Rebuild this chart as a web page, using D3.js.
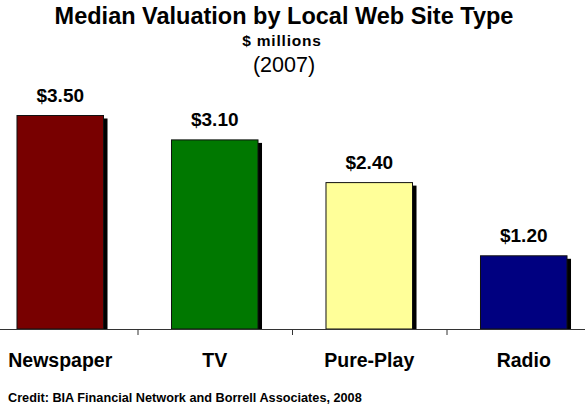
<!DOCTYPE html>
<html>
<head>
<meta charset="utf-8">
<script src="https://cdn.jsdelivr.net/npm/d3@7"></script>
<style>
  body { margin: 0; background: #fff; }
  text { font-family: "Liberation Sans", Arial, sans-serif; }
</style>
</head>
<body>
<script>
// Chart data
const categories = ['Newspaper', 'TV', 'Pure-Play', 'Radio'];
const values = [3.5, 3.1, 2.4, 1.2];
const valueLabels = ['$3.50', '$3.10', '$2.40', '$1.20'];
const barColors = ['#780000', '#007800', '#ffff99', '#000080'];

const width = 585;
const height = 407;

const svg = d3.select('body')
    .append('svg')
    .attr('width', width)
    .attr('height', height);

// Scales
const xscale = d3.scaleBand().domain(categories).range([-17, 601]).paddingInner(0.44).paddingOuter(0.22);
const yscale = d3.scaleLinear().domain([0, 4]).range([329, 85]);

// Titles
svg.append('text')
    .attr('x', 284).attr('y', 24)
    .attr('text-anchor', 'middle')
    .style('font-size', '23.5px').style('font-weight', 'bold')
    .text('Median Valuation by Local Web Site Type');

svg.append('text')
    .attr('x', 282).attr('y', 46)
    .attr('text-anchor', 'middle')
    .style('font-size', '15.5px').style('font-weight', 'bold')
    .style('letter-spacing', '0.8px')
    .text('$ millions');

svg.append('text')
    .attr('x', 284).attr('y', 72)
    .attr('text-anchor', 'middle')
    .style('font-size', '21.5px')
    .text('(2007)');

// Bars with drop shadow
const bars = svg.selectAll('g.bar')
    .data(categories)
    .join('g')
    .attr('class', 'bar');

bars.append('rect')
    .attr('x', (d) => xscale(d) + 4)
    .attr('y', (d, i) => yscale(values[i]) + 3)
    .attr('width', xscale.bandwidth())
    .attr('height', (d, i) => yscale(0) - yscale(values[i]) - 3)
    .attr('fill', '#000');

bars.append('rect')
    .attr('x', (d) => xscale(d))
    .attr('y', (d, i) => yscale(values[i]))
    .attr('width', xscale.bandwidth())
    .attr('height', (d, i) => yscale(0) - yscale(values[i]))
    .attr('fill', (d, i) => barColors[i])
    .attr('stroke', '#111')
    .attr('stroke-width', 1);

bars.append('text')
    .attr('x', (d) => xscale(d) + xscale.bandwidth() / 2)
    .attr('y', (d, i) => yscale(values[i]) - 14)
    .attr('text-anchor', 'middle')
    .style('font-size', '19px').style('font-weight', 'bold')
    .text((d, i) => valueLabels[i]);

// Axis line and ticks at band boundaries
const axisY = yscale(0);
svg.append('line')
    .attr('x1', 0).attr('x2', width)
    .attr('y1', axisY + 0.5).attr('y2', axisY + 0.5)
    .attr('stroke', '#333');

const step = xscale.step();
svg.selectAll('line.tick')
    .data(categories.slice(1))
    .join('line')
    .attr('class', 'tick')
    .attr('x1', (d) => xscale(d) - (step - xscale.bandwidth()) / 2 + 0.5)
    .attr('x2', (d) => xscale(d) - (step - xscale.bandwidth()) / 2 + 0.5)
    .attr('y1', axisY)
    .attr('y2', axisY + 6)
    .attr('stroke', '#333');

// Category labels
svg.selectAll('text.cat')
    .data(categories)
    .join('text')
    .attr('class', 'cat')
    .attr('x', (d) => xscale(d) + xscale.bandwidth() / 2)
    .attr('y', 367)
    .attr('text-anchor', 'middle')
    .style('font-size', '19.5px').style('font-weight', 'bold')
    .text((d) => d);

// Credit
svg.append('text')
    .attr('x', 8).attr('y', 402)
    .style('font-size', '12.7px').style('font-weight', 'bold')
    .text('Credit: BIA Financial Network and Borrell Associates, 2008');
</script>
</body>
</html>
